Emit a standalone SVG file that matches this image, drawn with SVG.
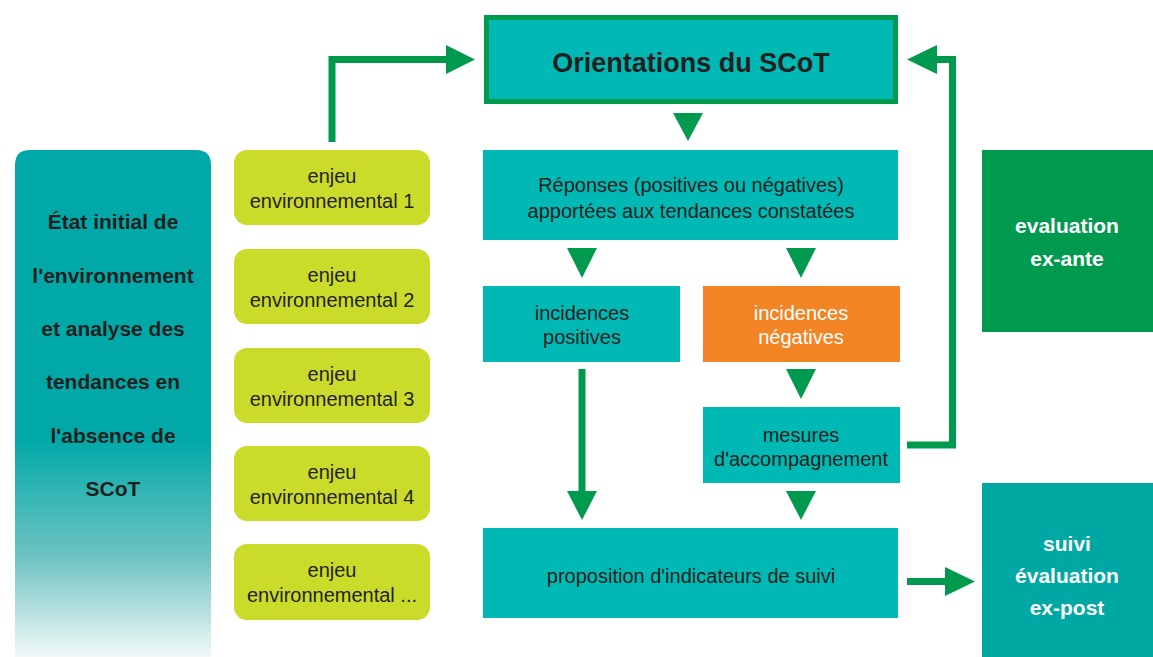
<svg xmlns="http://www.w3.org/2000/svg" width="1153" height="657" viewBox="0 0 1153 657">
<defs>
<linearGradient id="fade" x1="0" y1="150" x2="0" y2="657" gradientUnits="userSpaceOnUse">
<stop offset="0" stop-color="#00A9A8"/>
<stop offset="0.57" stop-color="#00A9A8"/>
<stop offset="0.8" stop-color="#6CC3C1"/>
<stop offset="1" stop-color="#F2F8F8"/>
</linearGradient>
<style>
text{font-family:"Liberation Sans",Arial,sans-serif;text-anchor:middle;fill:#231F20}
.b{font-weight:bold}
.w{fill:#FFFFFF}
.teal{fill:#00B8B4}
.lime{fill:#CBDB2A}
.t20{font-size:20px}
.t21{font-size:21px}
.ln{stroke:#009A4E;stroke-width:7;fill:none}
.hd{fill:#009A4E}
</style>
</defs>
<rect width="1153" height="657" fill="#FFFFFF"/>

<g id="etat-initial">
<path d="M15,165 Q15,150 30,150 L196,150 Q211,150 211,165 L211,657 L15,657 Z" fill="url(#fade)"/>
<text class="b t21" x="113" y="229">État initial de</text>
<text class="b t21" x="113" y="283">l'environnement</text>
<text class="b t21" x="113" y="336">et analyse des</text>
<text class="b t21" x="113" y="389">tendances en</text>
<text class="b t21" x="113" y="443">l'absence de</text>
<text class="b t21" x="113" y="496">SCoT</text>
</g>

<g id="enjeu1"><rect class="lime" x="234" y="150" width="196" height="75" rx="13"/>
<text class="t20" x="332" y="183">enjeu</text><text class="t20" x="332" y="208">environnemental 1</text></g>
<g id="enjeu2"><rect class="lime" x="234" y="249" width="196" height="75" rx="13"/>
<text class="t20" x="332" y="282">enjeu</text><text class="t20" x="332" y="307">environnemental 2</text></g>
<g id="enjeu3"><rect class="lime" x="234" y="348" width="196" height="75" rx="13"/>
<text class="t20" x="332" y="381">enjeu</text><text class="t20" x="332" y="406">environnemental 3</text></g>
<g id="enjeu4"><rect class="lime" x="234" y="446" width="196" height="75" rx="13"/>
<text class="t20" x="332" y="479">enjeu</text><text class="t20" x="332" y="504">environnemental 4</text></g>
<g id="enjeu5"><rect class="lime" x="234" y="544" width="196" height="76" rx="13"/>
<text class="t20" x="332" y="577">enjeu</text><text class="t20" x="332" y="602">environnemental ...</text></g>

<g id="orientations">
<rect class="teal" x="486.5" y="17.5" width="409" height="84" stroke="#009A4E" stroke-width="5"/>
<text class="b" font-size="27" x="691" y="72">Orientations du SCoT</text>
</g>

<g id="reponses">
<rect class="teal" x="483" y="150" width="415" height="90"/>
<text class="t20" x="691" y="192">Réponses (positives ou négatives)</text>
<text class="t20" x="691" y="218">apportées aux tendances constatées</text>
</g>

<g id="incidences-positives">
<rect class="teal" x="483" y="286" width="197" height="76"/>
<text class="t20" x="582" y="320">incidences</text>
<text class="t20" x="582" y="344">positives</text>
</g>

<g id="incidences-negatives">
<rect fill="#F28424" x="703" y="286" width="197" height="76"/>
<text class="t20 w" x="801" y="320">incidences</text>
<text class="t20 w" x="801" y="344">négatives</text>
</g>

<g id="mesures">
<rect class="teal" x="703" y="407" width="197" height="76"/>
<text class="t20" x="801" y="442">mesures</text>
<text class="t20" x="801" y="466">d'accompagnement</text>
</g>

<g id="proposition">
<rect class="teal" x="483" y="528" width="415" height="90"/>
<text class="t20" x="691" y="583">proposition d'indicateurs de suivi</text>
</g>

<g id="evaluation-ex-ante">
<rect fill="#009A4E" x="982" y="150" width="171" height="182"/>
<text class="b t21 w" x="1067" y="233">evaluation</text>
<text class="b t21 w" x="1067" y="266">ex-ante</text>
</g>

<g id="suivi">
<rect fill="#00A8A3" x="982" y="483" width="171" height="174"/>
<text class="b t21 w" x="1067" y="551">suivi</text>
<text class="b t21 w" x="1067" y="583">évaluation</text>
<text class="b t21 w" x="1067" y="615">ex-post</text>
</g>

<g id="connectors">
<polyline class="ln" points="332,142 332,59.5 446,59.5"/>
<polygon class="hd" points="446,45 475,59.5 446,74"/>
<polygon class="hd" points="673,113 703,113 688,141"/>
<polygon class="hd" points="567,248 597,248 582,278"/>
<polygon class="hd" points="786,248 816,248 801,278"/>
<polygon class="hd" points="786,369 816,369 801,399"/>
<polygon class="hd" points="786,491 816,491 801,520"/>
<line class="ln" x1="582" y1="369" x2="582" y2="492" stroke-width="8"/>
<polygon class="hd" points="567,491 597,491 582,520"/>
<polyline class="ln" points="907,445 952.5,445 952.5,59.5 937,59.5"/>
<polygon class="hd" points="937,45 907,59.5 937,74"/>
<line class="ln" x1="907" y1="581.5" x2="946" y2="581.5" stroke-width="9"/>
<polygon class="hd" points="945,567 975,581.5 945,596"/>
</g>
</svg>
